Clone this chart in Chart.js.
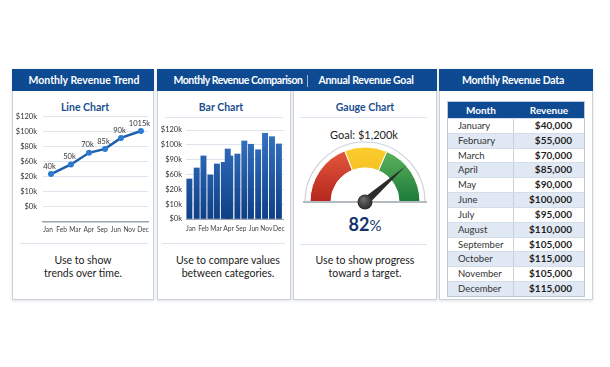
<!DOCTYPE html>
<html lang="en">
<head>
<meta charset="UTF-8">
<title>Monthly Revenue Dashboard</title>
<script src="https://cdn.jsdelivr.net/npm/chart.js"></script>
<style>
  body { margin: 0; background: #fff; font-family: Lato, "Open Sans", sans-serif; }
  #wrap { position: relative; width: 610px; height: 367px; overflow: hidden; }
  .panel { position: absolute; top: 69px; height: 231px; background: #fff; border: 1px solid #c9d1db; box-sizing: border-box; box-shadow: 0 1px 3px rgba(0,0,0,0.12); }
  .head { position: absolute; top: 69px; height: 22px; background: #0d4a91; }
  .htxt { position: absolute; top: 69px; height: 22px; line-height: 22px; color: #fff; font-weight: 700; font-size: 10.5px; text-align: center; white-space: nowrap; }
  .title { position: absolute; width: 120px; line-height: 14px; font-size: 10.5px; font-weight: 700; color: #1b4f8e; text-align: center; }
  .rule { position: absolute; height: 1px; background: #dce4ed; }
  .desc { position: absolute; width: 150px; line-height: 12.5px; font-size: 10.5px; color: #222; text-align: center; }
  canvas { position: absolute; }
  #table { position: absolute; left: 447px; top: 101px; width: 138px; border: 1px solid #b9c7d7; box-sizing: border-box; }
  .tr { display: flex; height: 14.83px; border-top: 1px solid #d3dce7; box-sizing: border-box; font-size: 9.5px; color: #333; line-height: 13.8px; }
  .tr.alt { background: #dfe8f3; }
  .tr.th { height: 16px; border-top: 0; background: #0e4b93; color: #fff; font-weight: 700; font-size: 10px; line-height: 16px; }
  .c1 { width: 66px; padding-left: 10px; box-sizing: border-box; border-right: 1px solid #c6d1dd; }
  .c2 { flex: 1; text-align: right; padding-right: 12px; font-weight: 700; font-size: 10px; color: #1f1f1f; }
  .th .c1, .th .c2 { text-align: center; padding: 0; color: #fff; border-right: 0; }
</style>
</head>
<body>
<div id="wrap">
  <div class="panel" style="left:12px;width:142px"></div>
  <div class="panel" style="left:157px;width:134px"></div>
  <div class="panel" style="left:293px;width:144px"></div>
  <div class="panel" style="left:439px;width:154px"></div>

  <div class="head" style="left:12px;width:142px"></div>
  <div class="head" style="left:157px;width:280px"></div>
  <div class="head" style="left:439px;width:154px"></div>
  <div class="htxt" style="left:13px;width:142px">Monthly Revenue Trend</div>
  <div class="htxt" style="left:168px;width:140px;letter-spacing:-0.45px">Monthly Revenue Comparison</div>
  <div style="position:absolute;left:307px;top:75px;width:1px;height:12px;background:rgba(255,255,255,0.6)"></div>
  <div class="htxt" style="left:306px;width:120px;letter-spacing:-0.25px">Annual Revenue Goal</div>
  <div class="htxt" style="left:436px;width:154px;letter-spacing:-0.25px">Monthly Revenue Data</div>

  <div class="title" style="left:25px;top:100px">Line Chart</div>
  <div class="title" style="left:161px;top:100px">Bar Chart</div>
  <div class="title" style="left:305px;top:100px">Gauge Chart</div>
  <div class="rule" style="left:165px;top:117px;width:118px"></div>
  <div class="rule" style="left:300px;top:117px;width:127px"></div>

  <div id="goal" style="position:absolute;left:304px;top:128px;width:120px;text-align:center;font-size:11px;line-height:14px;color:#222"></div>
  <div id="pct" style="position:absolute;left:305px;top:213px;width:120px;text-align:center;line-height:22px;color:#14356b"></div>

  <div class="rule" style="left:20px;top:243px;width:128px"></div>
  <div class="rule" style="left:162px;top:243px;width:123px"></div>
  <div class="rule" style="left:300px;top:244px;width:127px"></div>
  <div class="desc" style="left:8px;top:254px">Use to show<br>trends over time.</div>
  <div class="desc" style="left:153px;top:254px">Use to compare values<br>between categories.</div>
  <div class="desc" style="left:290px;top:254px">Use to show progress<br>toward a target.</div>

  <canvas id="lineChart" width="142" height="136" style="left:12px;top:106px"></canvas>
  <canvas id="barChart" width="134" height="122" style="left:157px;top:120px"></canvas>
  <canvas id="gaugeChart" width="132" height="80" style="left:299px;top:136px"></canvas>

  <div id="table"></div>
</div>
<script>
// line chart (the y axis labels are unevenly spaced, so values are in tick steps)
const lineLabels = ['Jan', 'Feb', 'Mar', 'Apr', 'Sep', 'Jun', 'Nov', 'Dec'];
const lineYTicks = ['$0k', '$10k', '$20k', '$60k', '$80k', '$100k', '$120k'];
const linePos = [0.22, 1.69, 3.02, 4.2, 5.38, 6.85];
const lineValues = [2.18, 2.82, 3.59, 3.85, 4.58, 5.04];
const linePointLabels = ['40k', '50k', '70k', '85k', '90k', '1015k'];

// bar chart
const barLabels = ['Jan', 'Feb', 'Mar', 'Apr', 'Sep', 'Jun', 'Nov', 'Dec'];
const barYTicks = ['$0k', '$10k', '$20k', '$60k', '$90k', '$100k', '$120k'];
const barPos = [-0.12, 0.46, 1.0, 1.55, 2.07, 2.62, 2.93, 3.13, 3.70, 4.25, 4.78, 5.35, 5.90, 6.45, 7.0];
const barValues = [2.70, 3.44, 4.25, 2.97, 3.71, 3.82, 4.72, 4.25, 4.38, 5.26, 5.04, 4.67, 5.78, 5.55, 5.06];

// gauge
const goalLabel = 'Goal: $1,200k';
const gaugeZones = [38, 25, 37];
const gaugePercent = 82;
const needlePercent = 77;

// table
const tableMonths = ['January', 'February', 'March', 'April', 'May', 'June', 'July', 'August', 'September', 'October', 'November', 'December'];
const tableRevenue = [40000, 55000, 70000, 85000, 90000, 100000, 95000, 110000, 105000, 115000, 105000, 115000];

const tickFont = { family: 'Lato', size: 7.5 };
const xFont = { family: 'Lato', size: 6.6 };

// labels over the line points
const pointLabels = {
  id: 'pointLabels',
  afterDatasetsDraw(chart) {
    const c = chart.ctx;
    c.save();
    c.font = '7.5px Lato';
    c.fillStyle = '#333';
    c.textAlign = 'center';
    c.textBaseline = 'bottom';
    chart.getDatasetMeta(0).data.forEach((p, i) => {
      c.fillText(linePointLabels[i], p.x - 1.5, p.y - 4);
    });
    c.restore();
  }
};

new Chart(document.getElementById('lineChart'), {
  type: 'line',
  data: {
    datasets: [{
      data: linePos.map((x, i) => ({ x: x, y: lineValues[i] })),
      borderColor: '#1d5fad',
      borderWidth: 2.5,
      pointRadius: 3,
      pointBackgroundColor: '#2b7bd2',
      pointBorderWidth: 0,
      clip: false
    }]
  },
  options: {
    responsive: false,
    animation: false,
    layout: { padding: { top: 10, right: 6, left: 0, bottom: 0 } },
    plugins: { legend: { display: false }, tooltip: { enabled: false } },
    scales: {
      x: {
        type: 'linear', min: -0.37, max: 7.37, offset: false,
        afterBuildTicks: s => { s.ticks = lineLabels.map((_, i) => ({ value: i })); },
        afterFit: s => { s.height = 20; },
        grid: { display: false, drawTicks: false },
        border: { display: true, color: '#9aa4af', width: 1.5 },
        ticks: { callback: v => lineLabels[v], autoSkip: false, maxRotation: 0, padding: 4, font: xFont, color: '#444' }
      },
      y: {
        min: -1, max: 6,
        afterBuildTicks: s => { s.ticks = lineYTicks.map((_, i) => ({ value: i })); },
        afterFit: s => { s.width = 31; },
        grid: { color: '#dfe5ec', drawTicks: false },
        border: { display: false },
        ticks: { callback: v => lineYTicks[v], padding: 6, font: tickFont, color: '#333' }
      }
    }
  },
  plugins: [pointLabels]
});

function barFill(ctx) {
  const a = ctx.chart.chartArea;
  if (!a) return '#1f5aa6';
  const g = ctx.chart.ctx.createLinearGradient(0, a.top, 0, a.bottom);
  g.addColorStop(0, '#3674c3');
  g.addColorStop(1, '#0f3f86');
  return g;
}

new Chart(document.getElementById('barChart'), {
  type: 'bar',
  data: {
    datasets: [{
      data: barPos.map((x, i) => ({ x: x, y: barValues[i] })),
      backgroundColor: barFill,
      borderWidth: 0,
      barThickness: 5.3
    }]
  },
  options: {
    responsive: false,
    animation: false,
    layout: { padding: { top: 10, right: 6, left: 0, bottom: 0 } },
    plugins: { legend: { display: false }, tooltip: { enabled: false } },
    scales: {
      x: {
        type: 'linear', min: -0.39, max: 7.4, offset: false,
        afterBuildTicks: s => { s.ticks = barLabels.map((_, i) => ({ value: i })); },
        afterFit: s => { s.height = 23; },
        grid: { display: false, drawTicks: false, offset: false },
        border: { display: true, color: '#9aa4af', width: 1 },
        ticks: { callback: v => barLabels[v], autoSkip: false, maxRotation: 0, padding: 6, font: xFont, color: '#444' }
      },
      y: {
        min: 0, max: 6,
        afterBuildTicks: s => { s.ticks = barYTicks.map((_, i) => ({ value: i })); },
        afterFit: s => { s.width = 29; },
        grid: { color: '#dfe5ec', drawTicks: false },
        border: { display: false },
        ticks: { callback: v => barYTicks[v], padding: 4, font: tickFont, color: '#333' }
      }
    }
  }
});

const zoneColors = [['#e85a3e', '#b3271e'], ['#fbcd30', '#f2b10d'], ['#60b85c', '#1c7a3b']];
function zoneFill(ctx) {
  const a = ctx.chart.chartArea;
  if (!a) return zoneColors[ctx.dataIndex][0];
  const cy = a.top + a.height / 2 + 27.5;
  const g = ctx.chart.ctx.createLinearGradient(0, cy - 55, 0, cy);
  g.addColorStop(0, zoneColors[ctx.dataIndex][0]);
  g.addColorStop(1, zoneColors[ctx.dataIndex][1]);
  return g;
}

const gaugeDecor = {
  id: 'gaugeDecor',
  afterDatasetsDraw(chart) {
    const arc = chart.getDatasetMeta(0).data[0];
    const cx = arc.x, cy = arc.y, r = arc.outerRadius;
    const c = chart.ctx;
    c.save();
    c.strokeStyle = '#cdd2d8';
    c.lineWidth = 1.2;
    c.beginPath();
    c.arc(cx, cy, r + 5, Math.PI, 2 * Math.PI);
    c.stroke();
    c.fillStyle = '#b5bac1';
    c.fillRect(cx - r - 7, cy - 1, 2 * (r + 7), 2);

    // needle
    const ang = Math.PI + needlePercent / 100 * Math.PI;
    const len = r - 1;
    const px = -Math.sin(ang), py = Math.cos(ang);
    c.fillStyle = '#2b2b2b';
    c.beginPath();
    c.moveTo(cx + px * 4, cy + py * 4);
    c.lineTo(cx + Math.cos(ang) * len, cy + Math.sin(ang) * len);
    c.lineTo(cx - px * 4, cy - py * 4);
    c.closePath();
    c.fill();

    const hub = c.createRadialGradient(cx - 2, cy - 3, 1, cx, cy, 8);
    hub.addColorStop(0, '#6b6b6b');
    hub.addColorStop(1, '#272727');
    c.fillStyle = hub;
    c.beginPath();
    c.arc(cx, cy, 7.5, 0, 2 * Math.PI);
    c.fill();
    c.restore();
  }
};

new Chart(document.getElementById('gaugeChart'), {
  type: 'doughnut',
  data: {
    labels: ['Low', 'Mid', 'High'],
    datasets: [{ data: gaugeZones, backgroundColor: zoneFill, borderColor: '#ffffff', borderWidth: 1 }]
  },
  options: {
    responsive: false,
    animation: false,
    rotation: -90,
    circumference: 180,
    cutout: '62%',
    radius: 55,
    layout: { padding: { top: 4, bottom: 7, left: 0, right: 0 } },
    plugins: { legend: { display: false }, tooltip: { enabled: false } }
  },
  plugins: [gaugeDecor]
});

document.getElementById('goal').textContent = goalLabel;
document.getElementById('pct').innerHTML =
  '<span style="font-weight:700;font-size:18px">' + gaugePercent + '</span><span style="font-size:15px">%</span>';

let rows = '<div class="tr th"><div class="c1">Month</div><div class="c2">Revenue</div></div>';
tableMonths.forEach((m, i) => {
  rows += '<div class="tr' + (i % 2 ? ' alt' : '') + '"><div class="c1">' + m + '</div><div class="c2">$' +
    tableRevenue[i].toLocaleString('en-US') + '</div></div>';
});
document.getElementById('table').innerHTML = rows;
</script>
</body>
</html>
